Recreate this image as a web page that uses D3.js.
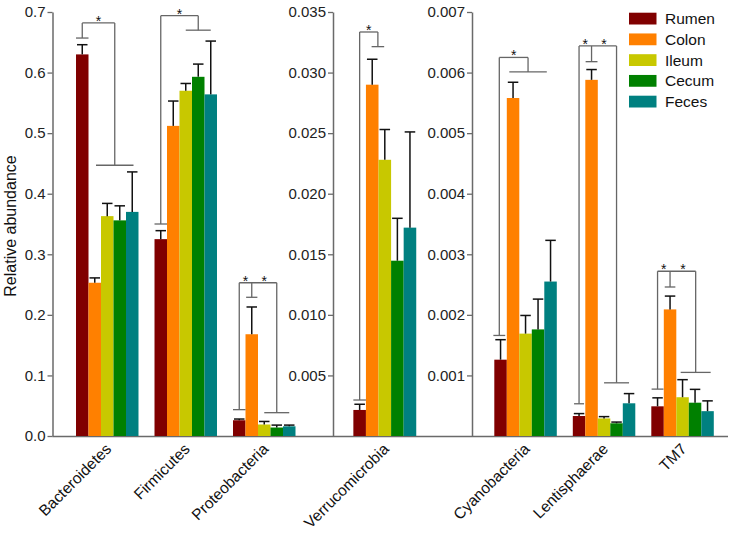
<!DOCTYPE html>
<html><head><meta charset="utf-8">
<script src="https://cdn.jsdelivr.net/npm/d3@7"></script>
<style>body{margin:0;background:#fff}svg{display:block}text{font-family:"Liberation Sans",Arial,sans-serif}</style>
</head><body><svg id="c" width="734" height="537"></svg>
<script>
// ---- data ----
const sites = ["Rumen", "Colon", "Ileum", "Cecum", "Feces"];
const siteColors = ["#800000", "#FF8000", "#C8C800", "#008000", "#008080"];
const phyla = ["Bacteroidetes", "Firmicutes", "Proteobacteria", "Verrucomicrobia", "Cyanobacteria", "Lentisphaerae", "TM7"];
const panelOfPhylum = [0, 0, 0, 1, 2, 2, 2];
const means = [
  [0.630, 0.253, 0.363, 0.356, 0.370],
  [0.325, 0.512, 0.570, 0.593, 0.564],
  [0.026, 0.168, 0.019, 0.014, 0.016],
  [0.00215, 0.0290, 0.0228, 0.01447, 0.0172],
  [0.00126, 0.00558, 0.00169, 0.00176, 0.00255],
  [0.00033, 0.00588, 0.00029, 0.00021, 0.00054],
  [0.00049, 0.00209, 0.00064, 0.00055, 0.00041]
];
const errors = [
  [0.016, 0.008, 0.021, 0.024, 0.066],
  [0.014, 0.041, 0.012, 0.021, 0.088],
  [0.002, 0.045, 0.005, 0.004, 0.002],
  [0.00047, 0.0021, 0.0025, 0.0035, 0.0079],
  [0.00033, 0.00026, 0.0003, 0.0005, 0.00068],
  [0.00004, 0.00017, 0.00003, 0.00002, 0.00016],
  [0.00014, 0.00022, 0.00029, 0.00022, 0.00017]
];
const yMax = [0.7, 0.035, 0.007];
const yTicks = [
  [0.0, 0.1, 0.2, 0.3, 0.4, 0.5, 0.6, 0.7],
  [0.005, 0.010, 0.015, 0.020, 0.025, 0.030, 0.035],
  [0.001, 0.002, 0.003, 0.004, 0.005, 0.006, 0.007]
];
const yTickFormats = [".1f", ".3f", ".3f"];
const yTitle = "Relative abundance";
// significance brackets: phylum index, top value, legs (bar position, foot value, foot width in bars)
const bracketPhylum = [0, 1, 2, 3, 4, 5, 6];
const bracketTop = [0.682, 0.694, 0.253, 0.03335, 0.00625, 0.00644, 0.00272];
const bracketLegs = [
  [[0.5, 0.657, 1.0], [3.1, 0.447, 3.0]],
  [[0.5, 0.350, 1.0], [3.5, 0.670, 2.0]],
  [[0.5, 0.0435, 1.0], [1.5, 0.229, 0.9], [3.5, 0.0385, 2.0]],
  [[0.5, 0.00297, 1.0], [1.95, 0.03214, 1.0]],
  [[0.4, 0.00166, 0.95], [2.7, 0.00601, 3.0]],
  [[0.5, 0.000532, 0.8], [1.5, 0.00618, 0.95], [3.5, 0.000878, 2.0]],
  [[0.5, 0.000774, 0.95], [1.5, 0.00246, 0.85], [3.55, 0.00105, 2.4]]
];

// ---- layout ----
const svg = d3.select("#c");
const yTop = 12, yBot = 436;
const panels = [
  {axisX: 52.5, range: [68, 303.5]},
  {axisX: 333, range: [345.3, 424.3]},
  {axisX: 472, range: [486.3, 721.8]}
];
const axisColor = "#6a6a6a";

const yScales = yMax.map(m => d3.scaleLinear().domain([0, m]).range([yBot, yTop]));
const xScales = panels.map((p, pi) => d3.scaleBand()
  .domain(phyla.filter((d, i) => panelOfPhylum[i] === pi))
  .range(p.range).paddingInner(0.204).paddingOuter(0.102));
const inner = xScales.map(xs => d3.scaleBand().domain(sites).range([0, xs.bandwidth()]));

// x baseline
svg.append("line").attr("x1", 52.5).attr("x2", 728).attr("y1", yBot + 0.5).attr("y2", yBot + 0.5)
  .attr("stroke", axisColor).attr("stroke-width", 1.5);

// y axes
panels.forEach((p, pi) => {
  const g = svg.append("g").attr("transform", `translate(${p.axisX},0)`)
    .call(d3.axisLeft(yScales[pi]).tickValues(yTicks[pi]).tickFormat(d3.format(yTickFormats[pi]))
      .tickSize(5).tickSizeOuter(0).tickPadding(2));
  g.select(".domain").attr("stroke", axisColor).attr("stroke-width", 1.5);
  g.selectAll(".tick line").attr("stroke", axisColor).attr("stroke-width", 1.3);
  g.selectAll(".tick text").attr("fill", "#222").style("font-size", "15px")
    .style("font-family", '"Liberation Sans",Arial,sans-serif');
});

// bars + error bars
phyla.forEach((ph, i) => {
  const pi = panelOfPhylum[i];
  const xs = xScales[pi], ins = inner[pi], ys = yScales[pi];
  const g0 = xs(ph);
  const g = svg.append("g");
  g.selectAll("rect").data(sites).join("rect")
    .attr("x", s => g0 + ins(s))
    .attr("width", ins.bandwidth())
    .attr("y", (s, k) => ys(means[i][k]))
    .attr("height", (s, k) => yBot - ys(means[i][k]))
    .attr("fill", (s, k) => siteColors[k]);
  const bw = ins.bandwidth();
  sites.forEach((s, k) => {
    const cx = g0 + ins(s) + bw / 2;
    const yT = ys(means[i][k] + errors[i][k]);
    g.append("line").attr("x1", cx).attr("x2", cx).attr("y1", ys(means[i][k])).attr("y2", yT)
      .attr("stroke", "#111").attr("stroke-width", 1.5);
    g.append("line").attr("x1", cx - bw * 0.42).attr("x2", cx + bw * 0.42).attr("y1", yT).attr("y2", yT)
      .attr("stroke", "#111").attr("stroke-width", 1.5);
  });
  // x label
  svg.append("text")
    .attr("transform", `translate(${g0 + xs.bandwidth() / 2 + 5},${yBot + 14}) rotate(-45)`)
    .attr("text-anchor", "end").attr("fill", "#111").style("font-size", "15.5px").text(ph);
});

// brackets
bracketPhylum.forEach((phi, b) => {
  const pi = panelOfPhylum[phi];
  const xs = xScales[pi], ys = yScales[pi];
  const g0 = xs(phyla[phi]);
  const bw = inner[pi].bandwidth();
  const legs = bracketLegs[b];
  const yt = ys(bracketTop[b]);
  const g = svg.append("g").attr("stroke", "#666").attr("stroke-width", 1.3).attr("fill", "none");
  const xsLeg = legs.map(l => g0 + l[0] * bw);
  g.append("line").attr("x1", xsLeg[0]).attr("x2", xsLeg[xsLeg.length - 1]).attr("y1", yt).attr("y2", yt);
  legs.forEach((l, j) => {
    const x = xsLeg[j], yf = ys(l[1]);
    g.append("line").attr("x1", x).attr("x2", x).attr("y1", yt).attr("y2", yf);
    g.append("line").attr("x1", x - l[2] * bw / 2).attr("x2", x + l[2] * bw / 2).attr("y1", yf).attr("y2", yf);
  });
  for (let j = 0; j < xsLeg.length - 1; j++) {
    svg.append("text").attr("x", (xsLeg[j] + xsLeg[j + 1]) / 2).attr("y", yt + 3)
      .attr("text-anchor", "middle").attr("fill", "#111").style("font-size", "14px").text("*");
  }
});

// y title
svg.append("text").attr("transform", `translate(16,226) rotate(-90)`).attr("text-anchor", "middle")
  .attr("fill", "#111").style("font-size", "16px").text(yTitle);

// legend
const lg = svg.append("g").attr("transform", "translate(629,12.7)");
sites.forEach((s, k) => {
  lg.append("rect").attr("x", 0).attr("y", k * 20.75).attr("width", 27.5).attr("height", 11.8).attr("fill", siteColors[k]);
  lg.append("text").attr("x", 36).attr("y", k * 20.75 + 11.5).attr("fill", "#111").style("font-size", "15.5px").text(s);
});
</script></body></html>
